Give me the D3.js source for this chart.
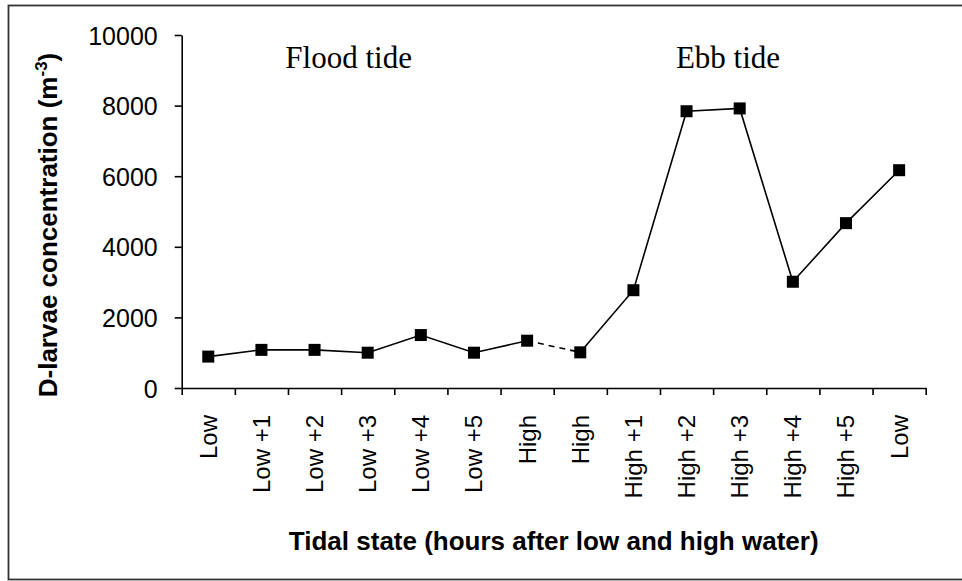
<!DOCTYPE html>
<html>
<head>
<meta charset="utf-8">
<script src="https://cdn.jsdelivr.net/npm/d3@7"></script>
<style>
  html, body { margin: 0; padding: 0; background: #fff; }
  svg { display: block; }
</style>
</head>
<body>
<svg id="chart" width="962" height="581"></svg>
<script>
// Tidal states sampled hourly across one flood and one ebb tide
const categories = ["Low", "Low +1", "Low +2", "Low +3", "Low +4", "Low +5", "High",
                    "High", "High +1", "High +2", "High +3", "High +4", "High +5", "Low"];
// D-larvae concentration (m^-3) at each tidal state
const values = [890, 1080, 1080, 1000, 1500, 1000, 1340,
                1010, 2770, 7840, 7920, 3010, 4670, 6170];
const yTicks = [0, 2000, 4000, 6000, 8000, 10000];
const phases = [
  { label: "Flood tide", at: 1.95 },
  { label: "Ebb tide", at: 9.3 }
];

const svg = d3.select("#chart");

// outer chart frame
svg.append("rect")
  .attr("x", 8.5).attr("y", 5.5)
  .attr("width", 990).attr("height", 574)
  .attr("fill", "none").attr("stroke", "#333").attr("stroke-width", 1.8);

const plot = { left: 181.7, right: 925.7, top: 35, bottom: 388 };

// category slots are addressed by index; ticks sit on slot boundaries
const x = d3.scaleLinear().domain([0, categories.length]).range([plot.left, plot.right]);
const y = d3.scaleLinear().domain([0, 10000]).range([plot.bottom, plot.top]);

const sans = "'Liberation Sans', Arial, sans-serif";
const serif = "'Liberation Serif', 'Times New Roman', serif";

// y axis
const yAxis = svg.append("g")
  .attr("transform", `translate(${plot.left},0)`)
  .call(d3.axisLeft(y).tickValues(yTicks).tickSize(7).tickPadding(17).tickSizeOuter(0).tickFormat(d3.format("d")));
yAxis.select(".domain").attr("stroke", "#000").attr("stroke-width", 1.6);
yAxis.selectAll(".tick line").attr("stroke", "#000").attr("stroke-width", 1.6);
yAxis.selectAll(".tick text")
  .attr("font-family", sans).attr("font-size", 25).attr("fill", "#000").attr("dy", "0.36em");

// x axis: boundary ticks, no built-in labels
const xAxis = svg.append("g")
  .attr("transform", `translate(0,${plot.bottom})`)
  .call(d3.axisBottom(x).tickValues(d3.range(categories.length + 1)).tickSize(7).tickSizeOuter(0).tickFormat(""));
xAxis.select(".domain").attr("stroke", "#000").attr("stroke-width", 1.6);
xAxis.selectAll(".tick line").attr("stroke", "#000").attr("stroke-width", 1.6);

// rotated category labels, centred in each slot
svg.append("g").selectAll("text")
  .data(categories)
  .join("text")
  .attr("transform", (d, i) => `translate(${x(i + 0.5) + 8.5},${plot.bottom + 27}) rotate(-90)`)
  .attr("text-anchor", "end")
  .attr("font-family", sans).attr("font-size", 24).attr("fill", "#000")
  .text(d => d);

// axis titles
svg.append("text")
  .attr("x", (plot.left + plot.right) / 2).attr("y", 550)
  .attr("text-anchor", "middle")
  .attr("font-family", sans).attr("font-size", 26).attr("font-weight", "bold")
  .text("Tidal state (hours after low and high water)");

const yTitle = svg.append("text")
  .attr("transform", `translate(57,225) rotate(-90)`)
  .attr("text-anchor", "middle")
  .attr("font-family", sans).attr("font-size", 26).attr("font-weight", "bold");
yTitle.append("tspan").text("D-larvae concentration (m");
yTitle.append("tspan").attr("font-size", 17).attr("dy", -10).text("-3");
yTitle.append("tspan").attr("dy", 10).text(")");

// tide phase captions
svg.append("g").selectAll("text")
  .data(phases)
  .join("text")
  .attr("x", d => x(d.at)).attr("y", 68)
  .attr("font-family", serif).attr("font-size", 31).attr("fill", "#000")
  .text(d => d.label);

const pts = values.map((v, i) => [x(i + 0.5), y(v)]);
const line = d3.line();

// flood tide series, ebb tide series, and the dashed link across high water
svg.append("path").attr("d", line(pts.slice(0, 7)))
  .attr("fill", "none").attr("stroke", "#000").attr("stroke-width", 1.6);
svg.append("path").attr("d", line(pts.slice(7)))
  .attr("fill", "none").attr("stroke", "#000").attr("stroke-width", 1.6);
svg.append("path").attr("d", line(pts.slice(6, 8)))
  .attr("fill", "none").attr("stroke", "#000").attr("stroke-width", 1.6)
  .attr("stroke-dasharray", "6,5");

// square markers
const m = 12;
svg.append("g").selectAll("rect")
  .data(values)
  .join("rect")
  .attr("x", (d, i) => x(i + 0.5) - m / 2)
  .attr("y", d => y(d) - m / 2)
  .attr("width", m).attr("height", m)
  .attr("fill", "#000");
</script>
</body>
</html>
